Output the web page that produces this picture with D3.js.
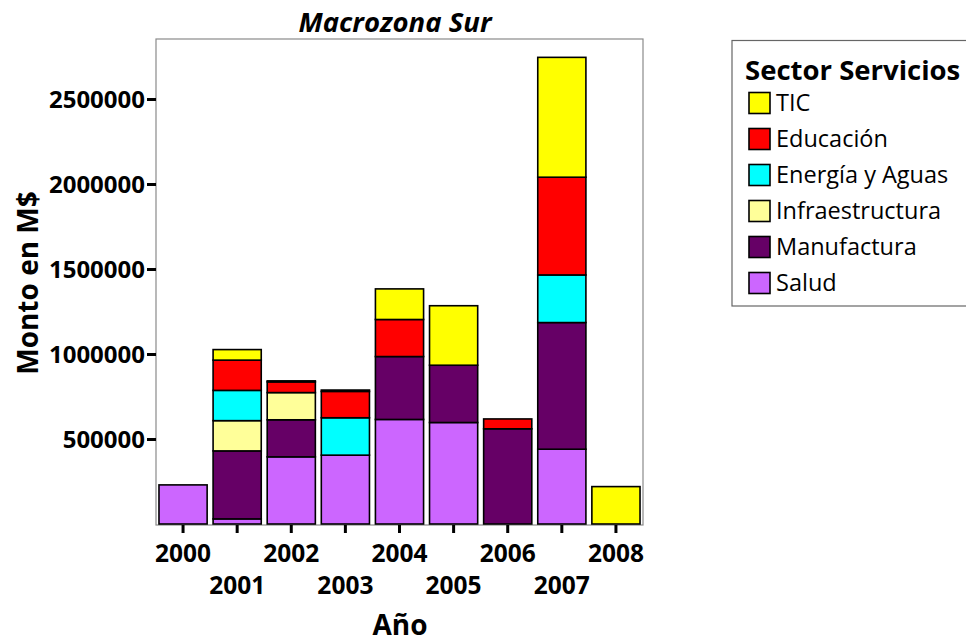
<!DOCTYPE html>
<html><head><meta charset="utf-8">
<script src="https://cdn.jsdelivr.net/npm/d3@7"></script>
<style>body{margin:0;background:#fff}svg{display:block;font-family:"Open Sans",sans-serif}</style>
</head><body>
<svg id="c" width="966" height="642"></svg>
<script>
const years = ["2000","2001","2002","2003","2004","2005","2006","2007","2008"];
const sectors = ["Salud","Manufactura","Infraestructura","Energía y Aguas","Educación","TIC"];
const legendOrder = ["TIC","Educación","Energía y Aguas","Infraestructura","Manufactura","Salud"];
const colors = ["#CC66FF","#660066","#FFFF99","#00FFFF","#FF0000","#FFFF00"];
const salud =           [230000, 30000, 395000, 405000, 615000, 597000,      0, 440000,      0];
const manufactura =     [     0,400000, 218000,      0, 370000, 337000, 560000, 745000,      0];
const infraestructura = [     0,178000, 160000,      0,      0,      0,      0,      0,      0];
const energia =         [     0,178000,      0, 220000,      0,      0,      0, 280000,      0];
const educacion =       [     0,178000,  63000, 155000, 218000,      0,  58000, 575000,      0];
const tic =             [     0, 62000,   6000,   8000, 180000, 350000,      0, 705000, 220000];
const yTicks = [500000,1000000,1500000,2000000,2500000];
const series = [salud, manufactura, infraestructura, energia, educacion, tic];

const rows = years.map((y,i)=>{const r={year:y}; sectors.forEach((s,j)=>r[s]=series[j][i]); return r;});
const stack = d3.stack().keys(sectors)(rows);
const color = d3.scaleOrdinal().domain(sectors).range(colors);

const svg = d3.select("#c");
const L=156, R=643, T=39, B=524;
const x = d3.scaleBand().domain(years).range([L,R]).paddingInner(0.11).paddingOuter(0.055);
const y = d3.scaleLinear().domain([0,2853000]).range([B,T]);

// frame
svg.append("rect").attr("x",L).attr("y",T).attr("width",R-L).attr("height",B+1-T)
  .attr("fill","none").attr("stroke","#8a8a8a").attr("stroke-width",1.2);

// bars
svg.append("g").selectAll("g").data(stack).join("g").attr("fill",d=>color(d.key))
  .selectAll("rect").data(d=>d.filter(p=>p[1]-p[0]>0)).join("rect")
  .attr("x",d=>x(d.data.year)).attr("width",x.bandwidth())
  .attr("y",d=>y(d[1])).attr("height",d=>y(d[0])-y(d[1]))
  .attr("stroke","#000").attr("stroke-width",1.6);

// y axis
const ya = svg.append("g").attr("transform",`translate(${L},0)`)
  .call(d3.axisLeft(y).tickValues(yTicks).tickSize(9).tickPadding(2).tickFormat(d3.format("d")));
ya.select(".domain").remove();
ya.selectAll(".tick line").attr("stroke","#000").attr("stroke-width",3);
ya.selectAll("text").attr("font-size",24).attr("font-weight",700).attr("fill","#000")
  .attr("font-family","Open Sans").attr("dy","0.35em");

// x axis
const xa = svg.append("g").attr("transform",`translate(0,${B+1})`)
  .call(d3.axisBottom(x).tickSize(8).tickPadding(4));
xa.select(".domain").remove();
xa.selectAll(".tick line").attr("stroke","#000").attr("stroke-width",3);
xa.selectAll("text").attr("font-size",24.5).attr("font-weight",700).attr("fill","#000")
  .attr("font-family","Open Sans")
  .attr("y",(d,i)=>i%2===0?12:44).attr("dy","1em");

// titles
svg.append("text").attr("x",395).attr("y",32).attr("text-anchor","middle")
  .attr("font-size",27.5).attr("font-weight",700).attr("font-style","italic").text("Macrozona Sur");
svg.append("text").attr("x",400).attr("y",635).attr("text-anchor","middle")
  .attr("font-size",28).attr("font-weight",700).text("Año");
svg.append("text").attr("transform","translate(38,283) rotate(-90)").attr("text-anchor","middle")
  .attr("font-size",28).attr("font-weight",700).text("Monto en M$");

// legend
const lg = svg.append("g");
lg.append("rect").attr("x",732).attr("y",40.5).attr("width",260).attr("height",265.5)
  .attr("fill","#fff").attr("stroke","#666").attr("stroke-width",1.2);
lg.append("text").attr("x",745).attr("y",80).attr("font-size",27.5).attr("font-weight",700).text("Sector Servicios");
const li = lg.selectAll("g.it").data(legendOrder).join("g").attr("class","it")
  .attr("transform",(d,i)=>`translate(749,${103+i*36})`);
li.append("rect").attr("x",0).attr("y",-10.5).attr("width",21).attr("height",21)
  .attr("fill",d=>color(d)).attr("stroke","#000").attr("stroke-width",1.6);
li.append("text").attr("x",27).attr("y",0).attr("dy","0.35em").attr("font-size",23.5).text(d=>d);
</script>
</body></html>
